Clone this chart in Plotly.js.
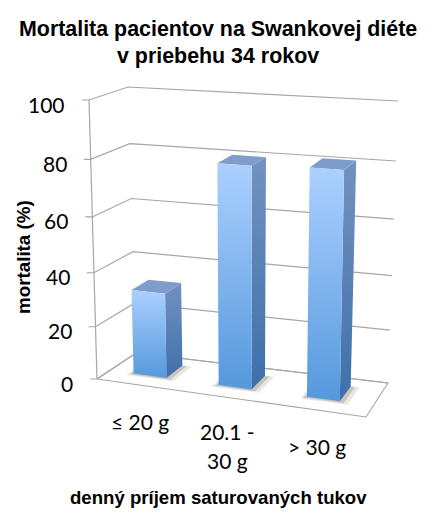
<!DOCTYPE html>
<html>
<head>
<meta charset="utf-8">
<script src="https://cdn.plot.ly/plotly-3.0.1.min.js"></script>
<style>html,body{margin:0;padding:0;background:#fff}#c{width:441px;height:514px}</style>
</head>
<body>
<div id="c"></div>
<script>
const categories = ['≤ 20 g', '20.1 -<br>30 g', '> 30 g'];
const mortality = [32, 80, 81];
const yTicks = [0, 20, 40, 60, 80, 100];
const titleLines = ['Mortalita pacientov na Swankovej diéte', 'v priebehu 34 rokov'];
const yTitle = 'mortalita (%)';
const xTitle = 'denný príjem saturovaných tukov';

// Projection of the pseudo-3D box: u along categories, d into the depth, v = value
const C = {
  FL: [[97, 379], [89, 100]],
  FR: [[366, 417], [372, 120]],
  BL: [[136, 353], [128, 87]],
  BR: [[388, 383], [398, 101]]
};
function project(u, d, v) {
  const r = v / 100;
  const t = r * (0.92 + 0.08 * r);
  const at = (c, i) => c[0][i] + (c[1][i] - c[0][i]) * t;
  return [0, 1].map(i => {
    const f = at(C.FL, i) + (at(C.FR, i) - at(C.FL, i)) * u;
    const b = at(C.BL, i) + (at(C.BR, i) - at(C.BL, i)) * u;
    return f + (b - f) * d;
  });
}
function poly(pts) {
  const p = pts.map(q => project(q[0], q[1], q[2]));
  return { x: p.map(q => q[0]).concat(p[0][0]), y: p.map(q => q[1]).concat(p[0][1]) };
}
const base = { type: 'scatter', mode: 'lines', hoverinfo: 'skip', showlegend: false };
const traces = [];

// floor
const floor = poly([[0, 0, 0], [1, 0, 0], [1, 1, 0], [0, 1, 0]]);
traces.push({ ...base, ...floor, line: { color: '#a6a6a6', width: 1.1 } });

// gridlines on the walls
yTicks.forEach(v => {
  const a = project(0, 0, v), b = project(0, 1, v), c = project(1, 1, v);
  traces.push({ ...base, x: [a[0] - 7, a[0], b[0], c[0]], y: [a[1], a[1], b[1], c[1]],
    line: { color: '#a6a6a6', width: 1.2 } });
});
// value axis
const ax0 = project(0, 0, 0), ax1 = project(0, 0, 100);
traces.push({ ...base, x: [ax0[0], ax1[0]], y: [ax0[1], ax1[1]], line: { color: '#a6a6a6', width: 1.2 } });

// bars
const barW = 0.125, barStart = [0.09, 0.413, 0.748], d0 = 0.33, d1 = 0.78;
mortality.forEach((val, i) => {
  const a = barStart[i], b = a + barW;
  // soft floor shadow
  [[0.035, 0.07, 0.16], [0.018, 0.035, 0.28]].forEach(s => {
    traces.push({ ...base, ...poly([[a - s[0] * 0.5, d0 - s[1], 0], [b + s[0], d0 - s[1], 0], [b + s[0], d1, 0], [a - s[0] * 0.5, d1, 0]]),
      fill: 'toself', fillcolor: 'rgba(120,105,90,' + s[2] + ')', line: { width: 0 } });
  });
  // right side
  traces.push({ ...base, ...poly([[b, d0, 0], [b, d1, 0], [b, d1, val], [b, d0, val]]),
    fill: 'toself', line: { width: 0 },
    fillgradient: { type: 'vertical', colorscale: [[0, '#3d70aa'], [1, '#7392c0']] } });
  // top
  traces.push({ ...base, ...poly([[a, d0, val], [b, d0, val], [b, d1, val], [a, d1, val]]),
    fill: 'toself', fillcolor: '#7f9dcb', line: { width: 0 } });
  // front
  traces.push({ ...base, ...poly([[a, d0, 0], [b, d0, 0], [b, d0, val], [a, d0, val]]),
    fill: 'toself', line: { width: 0 },
    fillgradient: { type: 'vertical', colorscale: [[0, '#5598dc'], [1, '#acd0ff']] } });
});

const annotations = [];
const note = (text, x, y, size, extra) => annotations.push(Object.assign({
  text, x, y, xref: 'x', yref: 'y', showarrow: false, xanchor: 'center', yanchor: 'middle',
  font: { family: 'Lato, sans-serif', size, color: '#000' }
}, extra || {}));

const heads = { family: '"Liberation Sans", Arial, sans-serif', color: '#000', weight: 700 };
titleLines.forEach((t, i) => note(t, 218, 29 + 26.5 * i, 21.4, { font: { ...heads, size: 21.4 } }));
note(yTitle, 23, 257, 18.8, { textangle: -90, font: { ...heads, size: 18.8 } });
note(xTitle, 218.5, 497, 18.6, { font: { ...heads, size: 18.6 } });
yTicks.forEach(v => {
  const p = project(0, 0, v);
  note(String(v), p[0] - 22, p[1] + 4, 21, { xanchor: 'right' });
});
const catX = [140, 227, 317], catY = [[421], [431, 460], [446]];
categories.forEach((c, i) => c.split('<br>').forEach((line, j) => note(line, catX[i], catY[i][j], 21)));

Plotly.newPlot('c', traces, {
  width: 441, height: 514,
  margin: { l: 0, r: 0, t: 0, b: 0 },
  paper_bgcolor: '#fff', plot_bgcolor: '#fff',
  showlegend: false,
  xaxis: { range: [0, 441], visible: false, fixedrange: true },
  yaxis: { range: [514, 0], visible: false, fixedrange: true },
  annotations
}, { displayModeBar: false, staticPlot: true });
</script>
</body>
</html>
